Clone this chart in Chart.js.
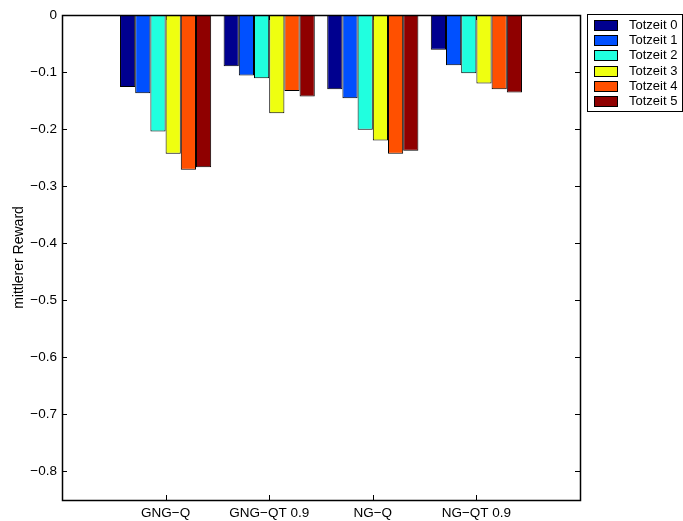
<!DOCTYPE html>
<html>
<head>
<meta charset="utf-8">
<script src="https://cdn.jsdelivr.net/npm/chart.js@4.4.1/dist/chart.umd.min.js"></script>
<style>
  html, body { margin: 0; padding: 0; background: #fff; }
  #wrap { width: 683px; height: 521px; }
</style>
</head>
<body>
<div id="wrap"><canvas id="myChart" width="683" height="521"></canvas></div>
<script>
// categories and series
const categories = ['GNG\u2212Q', 'GNG\u2212QT 0.9', 'NG\u2212Q', 'NG\u2212QT 0.9'];
const seriesNames = ['Totzeit 0', 'Totzeit 1', 'Totzeit 2', 'Totzeit 3', 'Totzeit 4', 'Totzeit 5'];
const seriesColors = ['#00008F', '#0050FF', '#20FFDF', '#EFFF10', '#FF5000', '#8F0000'];

const totzeit0 = [-0.126, -0.090, -0.130, -0.061];
const totzeit1 = [-0.137, -0.106, -0.146, -0.088];
const totzeit2 = [-0.204, -0.111, -0.201, -0.102];
const totzeit3 = [-0.243, -0.172, -0.220, -0.120];
const totzeit4 = [-0.271, -0.133, -0.243, -0.130];
const totzeit5 = [-0.267, -0.143, -0.238, -0.136];

const yTicks = [0, -0.1, -0.2, -0.3, -0.4, -0.5, -0.6, -0.7, -0.8];

const allSeries = [totzeit0, totzeit1, totzeit2, totzeit3, totzeit4, totzeit5];
const FONT = '"Liberation Sans", Arial, sans-serif';

function fmt(v) {
  const r = Math.round(v * 10) / 10;
  if (r === 0) return '0';
  return (r < 0 ? '\u2212' : '') + Math.abs(r).toFixed(1);
}

// box + inward ticks, like matlab axes
const axesBox = {
  id: 'axesBox',
  beforeDatasetsDraw(chart) {
    const { ctx, chartArea: a, scales } = chart;
    ctx.save();
    ctx.strokeStyle = '#000';
    ctx.lineWidth = 1;
    const len = 5;
    ctx.beginPath();
    yTicks.forEach(function(t) {
      const y = Math.round(scales.y.getPixelForValue(t)) + 0.5;
      ctx.moveTo(a.left, y); ctx.lineTo(a.left + len, y);
      ctx.moveTo(a.right, y); ctx.lineTo(a.right - len, y);
    });
    categories.forEach(function(c, i) {
      const x = Math.round(scales.x.getPixelForValue(i + 1)) + 0.5;
      ctx.moveTo(x, a.bottom); ctx.lineTo(x, a.bottom - len);
      ctx.moveTo(x, a.top); ctx.lineTo(x, a.top + len);
    });
    ctx.stroke();
    ctx.restore();
  },
  afterDatasetsDraw(chart) {
    const { ctx, chartArea: a } = chart;
    ctx.save();
    ctx.strokeStyle = '#000';
    ctx.lineWidth = 1.5;
    ctx.strokeRect(Math.round(a.left) + 0.5, Math.round(a.top) + 0.5,
      Math.round(a.right - a.left), Math.round(a.bottom - a.top));
    ctx.restore();
  }
};

// legend box top right
const boxLegend = {
  id: 'boxLegend',
  afterDraw(chart) {
    const ctx = chart.ctx;
    const x0 = 587.5, y0 = 14.5, w = 95, h = 97;
    ctx.save();
    ctx.fillStyle = '#fff';
    ctx.fillRect(x0, y0, w, h);
    ctx.strokeStyle = '#000';
    ctx.lineWidth = 1;
    ctx.strokeRect(x0, y0, w, h);
    ctx.font = '13px ' + FONT;
    ctx.textBaseline = 'middle';
    chart.data.datasets.forEach(function(ds, i) {
      const cy = 25 + i * 15.2;
      ctx.fillStyle = ds.backgroundColor;
      ctx.fillRect(594.5, Math.round(cy - 5) + 0.5, 23, 10);
      ctx.strokeRect(594.5, Math.round(cy - 5) + 0.5, 23, 10);
      ctx.fillStyle = '#000';
      ctx.fillText(ds.label, 629, cy + 0.5);
    });
    ctx.restore();
  }
};

const ctx = document.querySelector('#myChart').getContext('2d');

// eslint-disable-next-line no-undef
const chart = new Chart(ctx, {
  type: 'bar',
  data: {
    datasets: allSeries.map(function(values, s) {
      return {
        label: seriesNames[s],
        backgroundColor: seriesColors[s],
        borderColor: '#000',
        borderWidth: 1,
        borderSkipped: false,
        data: values.map(function(v, i) { return { x: i + 1, y: v }; }),
      };
    })
  },
  options: {
    responsive: false,
    animation: false,
    devicePixelRatio: 1,
    categoryPercentage: 0.88,
    barPercentage: 1.0,
    layout: { padding: { top: 15, right: 103, left: 0, bottom: 0 } },
    plugins: {
      legend: { display: false },
      tooltip: { enabled: false },
    },
    scales: {
      x: {
        type: 'linear',
        offset: false,
        min: 0,
        max: 5,
        grid: { display: false, drawTicks: false },
        border: { display: false },
        ticks: {
          stepSize: 1,
          autoSkip: false,
          maxRotation: 0,
          padding: 5,
          color: '#000',
          font: { family: FONT, size: 13.5 },
          callback: function(v) { return categories[v - 1] || ''; },
        },
        afterFit: function(scale) { scale.height = 21; },
      },
      y: {
        min: -0.85,
        max: 0,
        grid: { display: false, drawTicks: false },
        border: { display: false },
        afterBuildTicks: function(scale) {
          scale.ticks = yTicks.map(function(v) { return { value: v }; });
        },
        ticks: {
          padding: 5,
          color: '#000',
          font: { family: FONT, size: 13.5 },
          callback: function(v) { return fmt(v); },
        },
        title: {
          display: true,
          text: 'mittlerer Reward',
          color: '#000',
          padding: { top: 11, bottom: 0 },
          font: { family: FONT, size: 14 },
        },
        afterFit: function(scale) { scale.width = 62; },
      },
    },
  },
  plugins: [axesBox, boxLegend],
});
</script>
</body>
</html>
